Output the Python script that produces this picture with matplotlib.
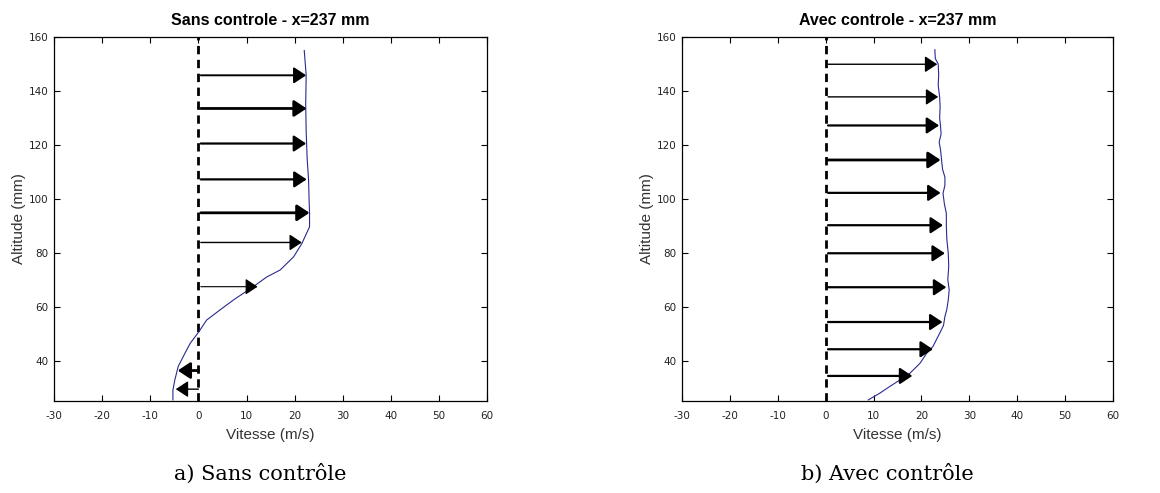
import numpy as np
import matplotlib
matplotlib.use("Agg")
import matplotlib.pyplot as plt

plt.rcParams['axes.unicode_minus'] = False

# ------------------------------------------------------------------
# Data
# ------------------------------------------------------------------
# a) sans controle : velocity profile (m/s) vs altitude (mm)
alt_sans = [25.4, 29.0, 32.8, 37.8, 42.7, 46.4, 50.7, 55.0, 58.8, 62.5, 67.4,
            71.0, 73.6, 78.5, 83.4, 89.6, 95.0, 100.0, 107.0, 115.0, 125.0,
            135.0, 145.8, 155.0]
vel_sans = [-5.3, -5.3, -4.9, -4.2, -2.8, -1.7, 0.1, 1.7, 4.5, 7.3, 11.4,
            14.2, 17.0, 19.8, 21.5, 23.1, 23.1, 23.0, 22.9, 22.6, 22.4,
            22.3, 22.4, 22.0]
arrow_alt_sans = [145.8, 133.5, 120.5, 107.2, 94.8, 83.8, 67.4, 36.3, 29.4]
arrow_vel_sans = [22.4, 22.5, 22.4, 22.5, 23.1, 21.5, 12.3, -4.3, -4.7]

# b) avec controle
alt_avec = [25.4, 27.9, 30.4, 32.8, 35.3, 39.0, 42.7, 45.2, 50.1, 53.0, 56.3,
            59.0, 62.5, 66.2, 70.0, 75.0, 79.8, 85.0, 90.0, 94.6, 98.0, 102.0,
            105.0, 108.0, 111.0, 114.4, 118.0, 121.0, 124.0, 126.7, 130.0,
            134.0, 137.8, 142.0, 146.0, 150.0, 152.0, 155.3]
vel_avec = [8.9, 11.3, 13.4, 15.5, 17.6, 19.7, 21.1, 22.4, 23.8, 24.6, 24.9,
            25.3, 25.6, 25.8, 25.5, 25.7, 25.6, 25.3, 25.2, 25.2, 24.8, 24.5,
            24.9, 24.9, 24.4, 24.2, 24.0, 23.7, 24.1, 24.0, 23.8, 23.9, 23.8,
            23.5, 23.6, 23.5, 22.9, 22.8]
arrow_alt_avec = [149.9, 137.8, 127.2, 114.4, 102.2, 90.2, 79.8, 67.2, 54.3,
                  44.2, 34.3]
arrow_vel_avec = [23.3, 23.5, 23.7, 24.0, 24.0, 24.5, 24.9, 25.2, 24.4, 22.4,
                  18.1]

panels = [
    ("Sans controle - x=237 mm", "a) Sans contrôle",
     alt_sans, vel_sans, arrow_alt_sans, arrow_vel_sans),
    ("Avec controle - x=237 mm", "b) Avec contrôle",
     alt_avec, vel_avec, arrow_alt_avec, arrow_vel_avec),
]

# arrow shaft widths (style only)
arrow_lw = [[1.4, 2.0, 1.6, 1.6, 2.0, 1.0, 0.8, 2.0, 1.0],
            [1.0, 1.0, 1.6, 2.0, 1.6, 1.6, 1.6, 1.6, 1.6, 1.6, 1.6]]

# ------------------------------------------------------------------
# Figure
# ------------------------------------------------------------------
fig = plt.figure(figsize=(11.6, 4.93), dpi=100)
axes_rects = [[0.0466, 0.1866, 0.3733, 0.7383],
              [0.5879, 0.1866, 0.3716, 0.7383]]
caption_x = [0.224, 0.765]

for k, (title, caption, alt, vel, a_alt, a_vel) in enumerate(panels):
    ax = fig.add_axes(axes_rects[k])
    ax.set_xlim(-30, 60)
    ax.set_ylim(25, 160)

    # zero line
    ax.plot([0, 0], [25, 160], color='black', ls='--', lw=2.0,
            dashes=(3, 2))
    # profile
    ax.plot(vel, alt, color='#2a2a90', lw=0.8)
    # arrows
    for y, v, lw in zip(a_alt, a_vel, arrow_lw[k]):
        x0 = 0.0 if v < 0 else 0.5
        ax.annotate('', xy=(v, y), xytext=(x0, y),
                    arrowprops=dict(arrowstyle='-|>,head_length=0.5,head_width=0.33',
                                    mutation_scale=15, color='black', lw=lw,
                                    shrinkA=0, shrinkB=0))

    ax.set_xticks(np.arange(-30, 61, 10))
    ax.set_yticks(np.arange(40, 161, 20))
    ax.tick_params(direction='in', top=True, right=True, length=4,
                   labelsize=7.5, labelcolor='#222222')
    ax.tick_params(axis='x', pad=7)
    ax.tick_params(axis='y', pad=4)
    for s in ax.spines.values():
        s.set_linewidth(0.9)
    ax.set_title(title, fontsize=11.5, fontfamily='Liberation Sans',
                 fontweight='bold', pad=9)
    ax.set_xlabel("Vitesse (m/s)", fontsize=11, color='#333333',
                  fontfamily='Liberation Sans', labelpad=5)
    ax.set_ylabel("Altitude (mm)", fontsize=11, color='#333333',
                  fontfamily='Liberation Sans', labelpad=2)

    fig.text(caption_x[k], 0.04, caption, ha='center', va='center',
             fontsize=15, fontfamily='DejaVu Serif')

fig.savefig("out.png", dpi=100)
